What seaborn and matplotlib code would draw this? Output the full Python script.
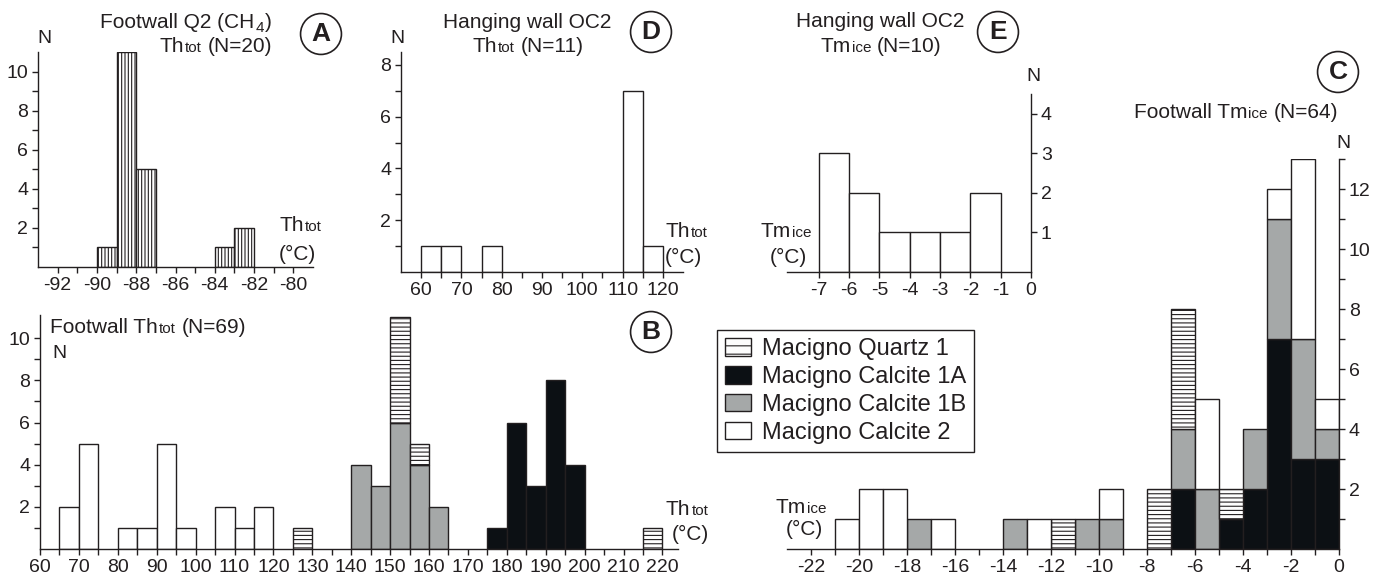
import numpy as np
import pandas as pd
import matplotlib
matplotlib.use("Agg")
import matplotlib.pyplot as plt
from matplotlib.patches import Patch
from matplotlib.colors import to_rgb
import seaborn as sns

# --- data: bin left edges and counts ---
# A: Footwall Q2 (CH4) Thtot, 1 degC bins
a_bins = [-90, -89, -88, -84, -83]
a_n = [1, 11, 5, 1, 2]

# D: Hanging wall OC2 Thtot, 5 degC bins
d_bins = [60, 65, 75, 110, 115]
d_n = [1, 1, 1, 7, 1]

# E: Hanging wall OC2 Tmice, 1 degC bins
e_bins = [-7, -6, -5, -4, -3, -2]
e_n = [3, 2, 1, 1, 1, 2]

# B: Footwall Thtot, 5 degC bins
b_q1_bins = [125, 150, 155, 215]
b_q1_n = [1, 5, 1, 1]
b_c1a_bins = [175, 180, 185, 190, 195]
b_c1a_n = [1, 6, 3, 8, 4]
b_c1b_bins = [140, 145, 150, 155, 160]
b_c1b_n = [4, 3, 6, 4, 2]
b_c2_bins = [65, 70, 80, 85, 90, 95, 105, 110, 115]
b_c2_n = [2, 5, 1, 1, 5, 1, 2, 1, 2]

# C: Footwall Tmice, 1 degC bins
c_q1_bins = [-12, -8, -7, -5]
c_q1_n = [1, 2, 4, 1]
c_c1a_bins = [-7, -5, -4, -3, -2, -1]
c_c1a_n = [2, 1, 2, 7, 3, 3]
c_c1b_bins = [-18, -14, -11, -10, -7, -6, -4, -3, -2, -1]
c_c1b_n = [1, 1, 1, 1, 2, 2, 2, 4, 4, 1]
c_c2_bins = [-21, -20, -19, -17, -13, -10, -6, -3, -2, -1]
c_c2_n = [1, 2, 2, 1, 1, 1, 3, 1, 6, 1]

groups = ["Macigno Quartz 1", "Macigno Calcite 1A", "Macigno Calcite 1B", "Macigno Calcite 2"]

# --- style ---
INK = "#231f20"
QZ = "#fdfdfd"
pal = {groups[0]: QZ, groups[1]: "#0c1014", groups[2]: "#a5a8a8", groups[3]: "#ffffff"}
stack_order = [groups[3], groups[0], groups[2], groups[1]]  # first on top

sns.set_style("ticks")
plt.rcParams["font.family"] = ["Liberation Sans", "DejaVu Sans"]
plt.rcParams["hatch.linewidth"] = 0.8
plt.rcParams["axes.edgecolor"] = INK
plt.rcParams["text.color"] = INK
plt.rcParams["axes.unicode_minus"] = False

W, H = 1383, 585
fig = plt.figure(figsize=(W / 100, H / 100), dpi=100)


def box(x0, y0, x1, y1):
    # pixel box (top-left origin) -> axes
    ax = fig.add_axes([x0 / W, 1 - y1 / H, (x1 - x0) / W, (y1 - y0) / H])
    ax.set_facecolor("none")
    return ax


def frame(parts, width):
    rows = []
    for name, bins, counts in parts:
        for b, n in zip(bins, counts):
            rows.append({"T": b + width / 2, "n": n, "group": name})
    return pd.DataFrame(rows)


def clean(ax, hatch=None):
    for p in list(ax.patches):
        if p.get_height() == 0:
            p.remove()
        elif hatch and np.allclose(p.get_facecolor()[:3], to_rgb(QZ)):
            p.set_hatch(hatch)


def style(ax, right=False):
    if right:
        sns.despine(ax=ax, left=True, right=False)
    else:
        sns.despine(ax=ax)
    for s in ax.spines.values():
        s.set_linewidth(1.0)
    ax.tick_params(which="both", direction="out", length=4, width=1, color=INK,
                   labelsize=14, labelcolor=INK, pad=3)
    ax.set_xlabel("")
    ax.set_ylabel("")


def rich(x, y, parts, ha="left"):
    # parts: (text, size, dy, gap) placed on one baseline
    r = fig.canvas.get_renderer()
    arts = [fig.text(0, 0, s, fontsize=fs, va="baseline") for s, fs, _, _ in parts]
    widths = [a.get_window_extent(r).width + g for a, (_, _, _, g) in zip(arts, parts)]
    x0 = x - {"left": 0, "center": sum(widths) / 2, "right": sum(widths)}[ha]
    for a, w, (_, _, dy, g) in zip(arts, widths, parts):
        a.set_position(((x0 + g) / W, 1 - (y + dy) / H))
        x0 += w


def badge(x, y, letter):
    fig.text(x / W, 1 - y / H, letter, ha="center", va="center", fontsize=19,
             fontweight="bold",
             bbox=dict(boxstyle="circle,pad=0.32", fc="white", ec=INK, lw=1.2))


BIG, SMALL = 15, 11

# --- A ---
ax = box(38, 52, 313, 267)
sns.histplot(x=[b + 0.5 for b in a_bins], weights=a_n, binwidth=1, binrange=(-90, -82),
             color="white", edgecolor=INK, linewidth=1, alpha=1, hatch="|||||", ax=ax)
clean(ax)
ax.set_xlim(-93, -79)
ax.set_ylim(0, 11)
ax.set_xticks(range(-92, -79, 2))
ax.set_xticks(range(-91, -80, 2), minor=True)
ax.set_yticks(range(2, 11, 2))
ax.set_yticks(range(1, 10, 2), minor=True)
style(ax)

# --- D ---
ax = box(401, 52, 683, 272)
sns.histplot(x=[b + 2.5 for b in d_bins], weights=d_n, binwidth=5, binrange=(60, 120),
             color="white", edgecolor=INK, linewidth=1, alpha=1, ax=ax)
clean(ax)
ax.set_xlim(55, 125)
ax.set_ylim(0, 8.5)
ax.set_xticks(range(60, 121, 10))
ax.set_xticks(range(65, 116, 10), minor=True)
ax.set_yticks(range(2, 9, 2))
ax.set_yticks(range(1, 8, 2), minor=True)
style(ax)

# --- C (drawn before E so E sits on top) ---
ax = box(787, 159, 1339, 549)
dfc = frame([(groups[0], c_q1_bins, c_q1_n), (groups[1], c_c1a_bins, c_c1a_n),
             (groups[2], c_c1b_bins, c_c1b_n), (groups[3], c_c2_bins, c_c2_n)], 1)
sns.histplot(data=dfc, x="T", weights="n", hue="group", hue_order=stack_order, palette=pal,
             multiple="stack", binwidth=1, binrange=(-21, 0), edgecolor=INK, linewidth=1,
             alpha=1, legend=False, ax=ax)
clean(ax, hatch="----")
ax.set_xlim(-23, 0)
ax.set_ylim(0, 13)
ax.set_xticks(range(-22, 1, 2))
ax.set_xticks(range(-21, 0, 2), minor=True)
ax.set_yticks(range(2, 13, 2))
ax.set_yticks(range(1, 14, 2), minor=True)
style(ax, right=True)

# --- E ---
ax = box(787, 94, 1031, 272)
sns.histplot(x=[b + 0.5 for b in e_bins], weights=e_n, binwidth=1, binrange=(-7, -1),
             color="white", edgecolor=INK, linewidth=1, alpha=1, ax=ax)
clean(ax)
ax.set_xlim(-8.05, 0)
ax.set_ylim(0, 4.5)
ax.set_xticks(range(-7, 1))
ax.set_yticks(range(1, 5))
style(ax, right=True)

# --- B ---
ax = box(40, 315, 678, 549)
dfb = frame([(groups[0], b_q1_bins, b_q1_n), (groups[1], b_c1a_bins, b_c1a_n),
             (groups[2], b_c1b_bins, b_c1b_n), (groups[3], b_c2_bins, b_c2_n)], 5)
sns.histplot(data=dfb, x="T", weights="n", hue="group", hue_order=stack_order, palette=pal,
             multiple="stack", binwidth=5, binrange=(65, 220), edgecolor=INK, linewidth=1,
             alpha=1, legend=False, ax=ax)
clean(ax, hatch="----")
ax.set_xlim(60, 224)
ax.set_ylim(0, 11.1)
ax.set_xticks(range(60, 221, 10))
ax.set_xticks(range(65, 216, 10), minor=True)
ax.set_yticks(range(2, 11, 2))
ax.set_yticks(range(1, 10, 2), minor=True)
style(ax)

# --- legend ---
handles = [Patch(facecolor=pal[g], edgecolor=INK, linewidth=1,
                 hatch="--" if g == groups[0] else None) for g in groups]
leg = fig.legend(handles, groups, loc="upper left", bbox_to_anchor=(717 / W, 1 - 330 / H),
                 fontsize=17, frameon=True, fancybox=False, edgecolor=INK, framealpha=1,
                 handlelength=1.1, handleheight=0.75, handletextpad=0.45, borderpad=0.35,
                 labelspacing=0.25, borderaxespad=0)
leg.get_frame().set_linewidth(1.0)

# --- texts ---
rich(272, 28, [("Footwall Q2 (CH", BIG, 0, 0), ("4", SMALL, 4, 1), (")", BIG, 0, 1)], "right")
rich(272, 52, [("Th", BIG, 0, 0), ("tot", SMALL, 0, 1), ("(N=20)", BIG, 0, 6)], "right")
rich(44, 43, [("N", 14, 0, 0)], "center")
rich(279, 231, [("Th", BIG, 0, 0), ("tot", SMALL, 0, 1)])
rich(279, 260, [("(°C)", BIG, 0, 0)])
badge(321, 34, "A")

rich(527, 28, [("Hanging wall OC2", BIG, 0, 0)], "center")
rich(528, 52, [("Th", BIG, 0, 0), ("tot", SMALL, 0, 1), ("(N=11)", BIG, 0, 6)], "center")
rich(397, 43, [("N", 14, 0, 0)], "center")
rich(665, 237, [("Th", BIG, 0, 0), ("tot", SMALL, 0, 1)])
rich(665, 263, [("(°C)", BIG, 0, 0)])
badge(651, 32, "D")

rich(880, 27, [("Hanging wall OC2", BIG, 0, 0)], "center")
rich(881, 52, [("Tm", BIG, 0, 0), ("ice", SMALL, 0, 1), ("(N=10)", BIG, 0, 6)], "center")
rich(1033, 81, [("N", 14, 0, 0)], "center")
rich(786, 237, [("Tm", BIG, 0, 0), ("ice", SMALL, 0, 1)], "center")
rich(788, 263, [("(°C)", BIG, 0, 0)], "center")
badge(998, 32, "E")

rich(1338, 118, [("Footwall Tm", BIG, 0, 0), ("ice", SMALL, 0, 1), ("(N=64)", BIG, 0, 6)], "right")
rich(1343, 148, [("N", 14, 0, 0)], "center")
rich(801, 513, [("Tm", BIG, 0, 0), ("ice", SMALL, 0, 1)], "center")
rich(804, 535, [("(°C)", BIG, 0, 0)], "center")
badge(1338, 72, "C")

rich(50, 333, [("Footwall Th", BIG, 0, 0), ("tot", SMALL, 0, 1), ("(N=69)", BIG, 0, 6)])
rich(52, 358, [("N", 14, 0, 0)])
rich(666, 515, [("Th", BIG, 0, 0), ("tot", SMALL, 0, 1)])
rich(672, 540, [("(°C)", BIG, 0, 0)])
badge(651, 332, "B")

fig.savefig("out.png", dpi=100)
